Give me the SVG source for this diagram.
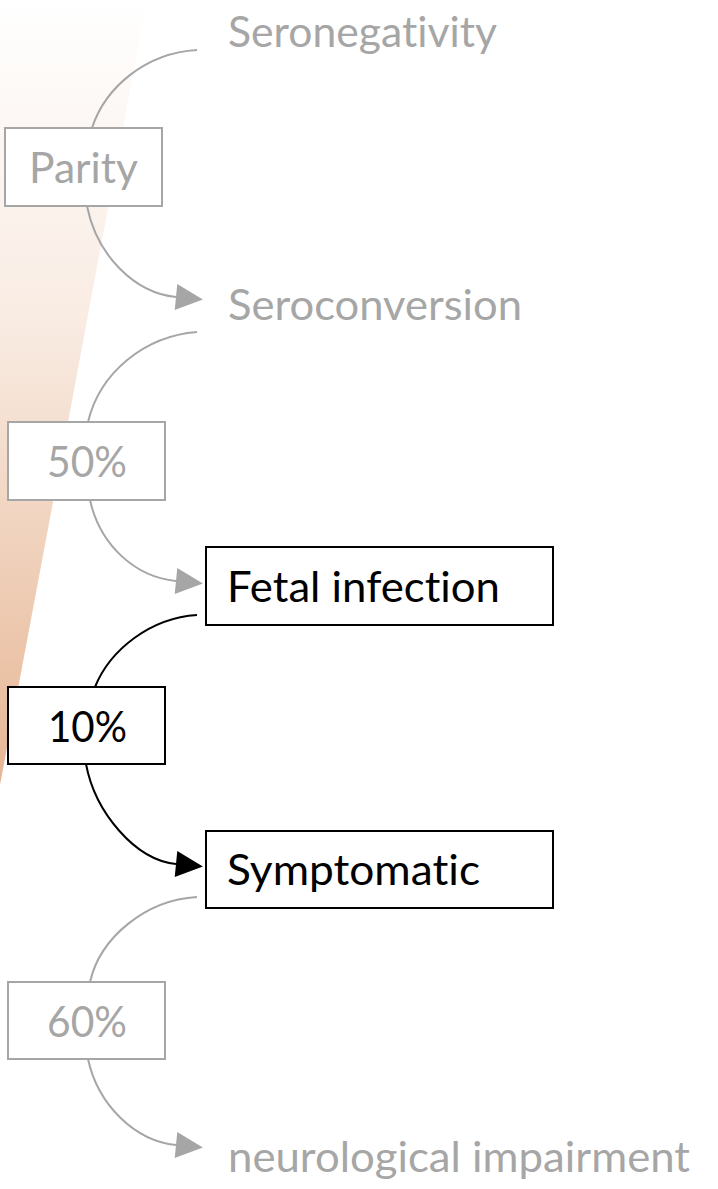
<svg xmlns="http://www.w3.org/2000/svg" width="718" height="1189" viewBox="0 0 718 1189">
<style>
  .t { font-family: Lato, "Liberation Sans", sans-serif; font-size: 42px; font-variant-ligatures: none; }
  .g { fill: #a6a6a6; }
  .k { fill: #000000; }
  .boxg { fill: #ffffff; stroke: #a6a6a6; stroke-width: 2; }
  .boxk { fill: #ffffff; stroke: #000000; stroke-width: 2; }
  .cg { fill: none; stroke: #a6a6a6; stroke-width: 2; }
  .ck { fill: none; stroke: #000000; stroke-width: 2; }
</style>
<defs>
  <linearGradient id="bg" x1="0" y1="0" x2="0" y2="790" gradientUnits="userSpaceOnUse">
    <stop offset="0" stop-color="#ffffff"/>
    <stop offset="0.4" stop-color="#f9ece3"/>
    <stop offset="1" stop-color="#e6b593"/>
  </linearGradient>
  <marker id="ag" markerUnits="userSpaceOnUse" markerWidth="28" markerHeight="28" refX="0" refY="13" orient="auto" overflow="visible">
    <path d="M0,0 L27,13 L0,26 Z" fill="#a6a6a6"/>
  </marker>
  <marker id="ak" markerUnits="userSpaceOnUse" markerWidth="28" markerHeight="28" refX="0" refY="13" orient="auto" overflow="visible">
    <path d="M0,0 L27,13 L0,26 Z" fill="#000000"/>
  </marker>
</defs>
<polygon points="0,0 147,0 0,785" fill="url(#bg)"/>
<g id="connectors">
  <path class="cg" d="M197,50 C145,53 105,88 92,128"/>
  <path class="cg" d="M87,206 C97,256 135,293 176,297" marker-end="url(#ag)"/>
  <path class="cg" d="M197,332 C145,336 100,372 88,422"/>
  <path class="cg" d="M90,500 C100,545 135,577 176,581" marker-end="url(#ag)"/>
  <path class="ck" d="M197,615 C150,618 110,650 95,687"/>
  <path class="ck" d="M86,764 C95,812 135,860 176,864" marker-end="url(#ak)"/>
  <path class="cg" d="M197,897 C145,900 100,938 90,982"/>
  <path class="cg" d="M88,1059 C98,1105 135,1141 176,1145" marker-end="url(#ag)"/>
</g>
<g id="seronegativity">
  <text class="t g" x="228" y="47" textLength="269" lengthAdjust="spacingAndGlyphs">Seronegativity</text>
</g>
<g id="parity">
  <rect class="boxg" x="5" y="128" width="157" height="78"/>
  <text class="t g" x="29" y="183" textLength="109" lengthAdjust="spacingAndGlyphs">Parity</text>
</g>
<g id="seroconversion">
  <text class="t g" x="228" y="320" textLength="294" lengthAdjust="spacingAndGlyphs">Seroconversion</text>
</g>
<g id="p50">
  <rect class="boxg" x="8" y="422" width="157" height="78"/>
  <text class="t g" x="47" y="477" textLength="80" lengthAdjust="spacingAndGlyphs">50%</text>
</g>
<g id="fetal">
  <rect class="boxk" x="206" y="547" width="347" height="78"/>
  <text class="t k" x="227" y="602" textLength="273" lengthAdjust="spacingAndGlyphs">Fetal infection</text>
</g>
<g id="p10">
  <rect class="boxk" x="8" y="687" width="157" height="77"/>
  <text class="t k" x="48" y="742" textLength="79" lengthAdjust="spacingAndGlyphs">10%</text>
</g>
<g id="symptomatic">
  <rect class="boxk" x="206" y="831" width="347" height="77"/>
  <text class="t k" x="227" y="885" textLength="253" lengthAdjust="spacingAndGlyphs">Symptomatic</text>
</g>
<g id="p60">
  <rect class="boxg" x="8" y="982" width="157" height="77"/>
  <text class="t g" x="47" y="1037" textLength="80" lengthAdjust="spacingAndGlyphs">60%</text>
</g>
<g id="neuro">
  <text class="t g" x="228" y="1172" textLength="462" lengthAdjust="spacingAndGlyphs">neurological impairment</text>
</g>
</svg>
